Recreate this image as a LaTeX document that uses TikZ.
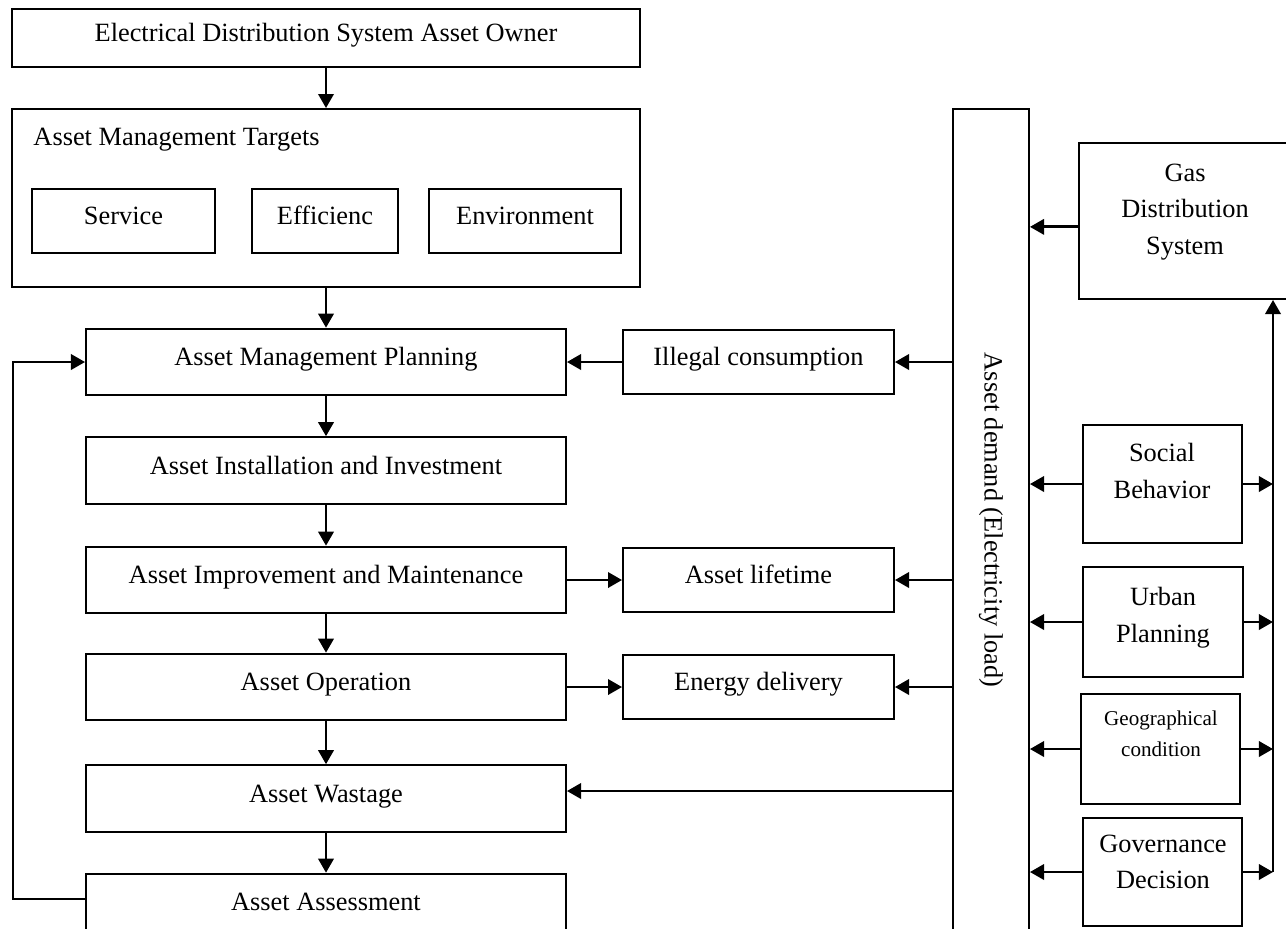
\documentclass[tikz,border=0pt]{standalone}
\usepackage{fontspec}
\setmainfont{Liberation Serif}
\usepackage{graphicx}
\usepackage{tikz}
\usetikzlibrary{arrows.meta}

\begin{document}
\begin{tikzpicture}[x=0.015cm, y=-0.015cm,
    every node/.style={font=\fontsize{11.25}{15.6}\selectfont},
    box/.style={draw, line width=0.8pt, inner sep=0pt, text height=8pt, text depth=5pt},
    sidebox/.style={draw, line width=0.8pt, inner sep=0pt, minimum width=2.39cm},
    txt/.style={align=center, inner sep=0pt},
    arr/.style={line width=1.2pt, -{Triangle[length=6pt, width=6.5pt]}}]
    % Fix the picture size
    \useasboundingbox (0,0) rectangle (1286,928);

    % Owner and targets
    \node[box, minimum width=9.42cm, minimum height=0.87cm] (owner) at (326,38) {Electrical Distribution System Asset Owner};
    \node[box, minimum width=9.42cm, minimum height=2.67cm] (targets) at (326,198) {};
    \node[anchor=west, inner sep=0pt] (tgttitle) at (33,140) {Asset Management Targets};
    \foreach \name/\cx/\w/\label in {serv/123.5/2.745/Service, eff/325/2.19/Efficienc, env/525/2.88/Environment} {
        \node[box, minimum width=\w cm, minimum height=0.96cm] (\name) at (\cx,221) {\label};
    }

    % Asset life cycle column
    \foreach \name/\cy/\label in {plan/362/Asset Management Planning, inst/470.5/Asset Installation and Investment, impr/580/Asset Improvement and Maintenance, oper/687/Asset Operation, waste/798.5/Asset Wastage, assess/907/Asset Assessment} {
        \node[box, minimum width=7.2cm, minimum height=1cm] (\name) at (326,\cy) {\label};
    }

    % Middle boxes
    \foreach \name/\cy/\label in {illegal/362/Illegal consumption, life/580/Asset lifetime, energy/687/Energy delivery} {
        \node[box, minimum width=4.065cm, minimum height=0.95cm] (\name) at (758.5,\cy) {\label};
    }

    % Demand bar
    \node[draw, line width=0.8pt, inner sep=0pt, minimum width=1.14cm, minimum height=12.33cm] (demand) at (991,520) {\rotatebox{-90}{Asset demand (Electricity load)}};

    % Outside drivers
    \node[sidebox, minimum width=3.18cm, minimum height=2.34cm] (gas) at (1185,221) {};
    \node[txt] (gastext) at (1185,212) {Gas\\Distribution\\System};
    \node[sidebox, minimum height=1.77cm] (social) at (1162.5,484) {};
    \node[txt] (socialtext) at (1162,471) {Social\\Behavior};
    \node[sidebox, minimum height=1.65cm] (urban) at (1163,622) {};
    \node[txt] (urbantext) at (1163,617.5) {Urban\\Planning};
    \node[sidebox, minimum height=1.65cm] (geo) at (1160.5,749) {};
    \node[txt, font=\fontsize{9}{13.2}\selectfont] (geotext) at (1161,733.5) {Geographical\\condition};
    \node[sidebox, minimum height=1.62cm] (gov) at (1162.5,872) {};
    \node[txt] (govtext) at (1163,862) {Governance\\Decision};
    \coordinate (bus) at (1273,872);

    % Main chain
    \foreach \a/\b in {owner/targets, targets/plan, plan/inst, inst/impr, impr/oper, oper/waste, waste/assess} {
        \draw[arr] (\a) -- (\b);
    }

    % Side flows
    \draw[arr] (illegal) -- (plan);
    \draw[arr] (impr) -- (life);
    \draw[arr] (oper) -- (energy);
    \foreach \n in {illegal, life, energy} {
        \draw[arr] (demand.west |- \n.east) -- (\n.east);
    }
    \draw[arr] (demand.west |- 0,791) -- (waste.east |- 0,791);

    % Drivers into demand and gas
    \draw[arr] ([yshift=-2.5pt]gas.west) -- ([yshift=-2.5pt]gas.west -| demand.east);
    \foreach \n in {social, urban, geo, gov} {
        \draw[arr] (\n.west) -- (\n.west -| demand.east);
    }
    \foreach \n in {social, urban, geo, gov} {
        \draw[arr] (\n.east) -- (\n.east -| bus);
    }
    \draw[arr] (bus) -- (bus |- gas.south);

    % Feedback loop
    \coordinate (loop) at (13,899);
    \draw[arr] (loop -| assess.west) -- (loop) |- (plan.west);
\end{tikzpicture}
\end{document}
